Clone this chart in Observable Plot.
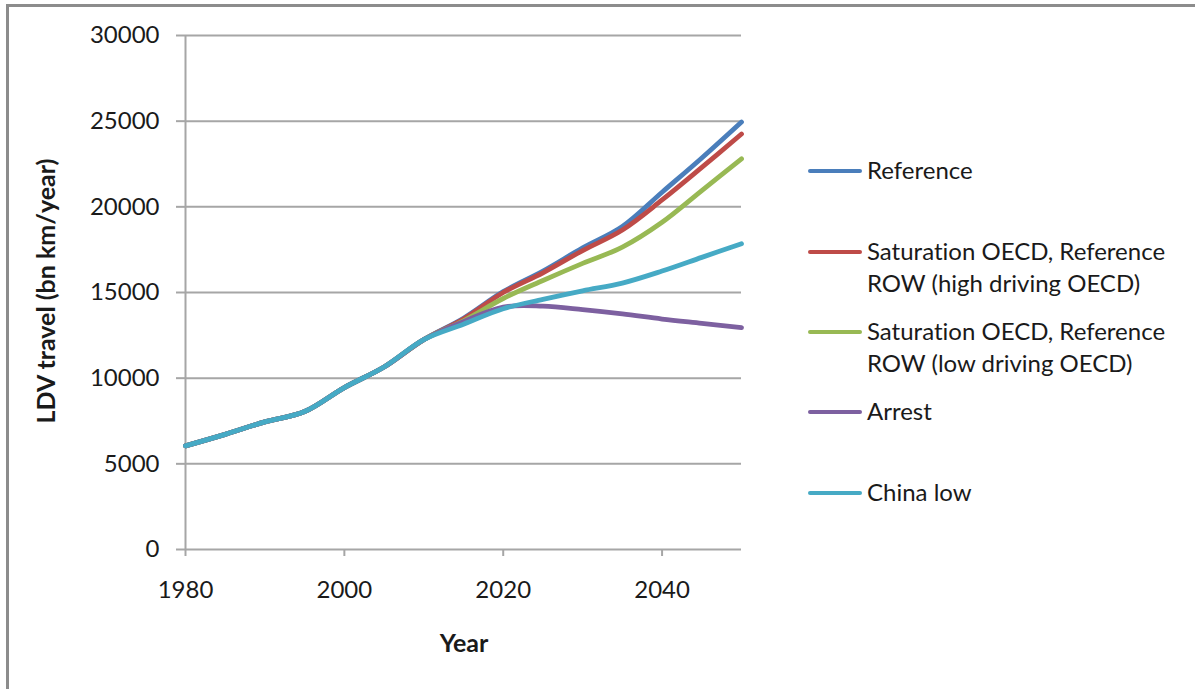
<!DOCTYPE html>
<html>
<head>
<meta charset="utf-8">
<script src="https://cdn.jsdelivr.net/npm/d3@7"></script>
<script src="https://cdn.jsdelivr.net/npm/@observablehq/plot@0.6"></script>
<style>
  html, body { margin: 0; padding: 0; background: #fff; }
  #wrap { position: relative; width: 1195px; height: 689px; overflow: hidden; font-family: Lato, "Open Sans", sans-serif; color: #1a1a1a; font-variant-ligatures: none; }
  #wrap svg text { font-variant-ligatures: none; }
  #frame { position: absolute; left: 6px; top: 4px; width: 1300px; height: 800px; border-left: 3px solid #8c8c8c; border-top: 3px solid #8c8c8c; box-sizing: border-box; }
  #chart { position: absolute; left: 0; top: 0; }
  .legend-item { position: absolute; left: 808px; display: flex; align-items: flex-start; }
  .legend-item .swatch { width: 54px; height: 4px; border-radius: 2px; margin-top: 14px; flex: none; }
  .legend-item .txt { margin-left: 5px; font-size: 24px; line-height: 32px; margin-top: -1px; white-space: nowrap; }
  #ytitle { position: absolute; left: 45px; top: 291px; transform: translate(-50%, -50%) rotate(-90deg); font-weight: bold; font-size: 25px; white-space: nowrap; }
  #xtitle { position: absolute; left: 464px; top: 642px; transform: translate(-50%, -50%); font-weight: bold; font-size: 25px; }
</style>
</head>
<body>
<div id="wrap">
  <div id="chart"></div>
  <div id="frame"></div>
  <div id="ytitle">LDV travel (bn km/year)</div>
  <div id="xtitle">Year</div>
  <div id="legend"></div>
</div>
<script>
// ---- data ----
const years = [1980, 1985, 1990, 1995, 2000, 2005, 2010, 2015, 2020, 2025, 2030, 2035, 2040, 2045, 2050];
const history = [6050, 6720, 7450, 8050, 9450, 10650, 12250];
const seriesNames = [
  "Reference",
  "Saturation OECD, Reference ROW (high driving OECD)",
  "Saturation OECD, Reference ROW (low driving OECD)",
  "Arrest",
  "China low"
];
const legendLines = [
  ["Reference"],
  ["Saturation OECD, Reference", "ROW (high driving OECD)"],
  ["Saturation OECD, Reference", "ROW (low driving OECD)"],
  ["Arrest"],
  ["China low"]
];
const referenceFuture = [13500, 15050, 16250, 17600, 18850, 20850, 22850, 24950];
const satHighFuture   = [13450, 15000, 16150, 17450, 18650, 20400, 22300, 24250];
const satLowFuture    = [13350, 14650, 15700, 16700, 17650, 19100, 20950, 22800];
const arrestFuture    = [13300, 14150, 14200, 14000, 13750, 13450, 13200, 12950];
const chinaLowFuture  = [13150, 14050, 14600, 15100, 15550, 16250, 17050, 17850];
const colors = ["#4A7EBB", "#BE4B48", "#98B954", "#7D60A0", "#46AAC5"];
const yTicks = [0, 5000, 10000, 15000, 20000, 25000, 30000];
const xTicks = [1980, 2000, 2020, 2040];

// ---- build table ----
const futures = [referenceFuture, satHighFuture, satLowFuture, arrestFuture, chinaLowFuture];
const rows = [];
seriesNames.forEach((name, i) => {
  const vals = history.concat(futures[i]);
  years.forEach((yr, j) => rows.push({series: name, year: yr, value: vals[j]}));
});

const grid = "#a6a6a6";
const chart = Plot.plot({
  width: 1195,
  height: 689,
  marginLeft: 185,
  marginRight: 454,
  marginTop: 35,
  marginBottom: 140,
  style: {fontFamily: "Lato, 'Open Sans', sans-serif", fontSize: "24px", color: "#1a1a1a", background: "transparent"},
  x: {domain: [1980, 2050]},
  y: {domain: [0, 30000]},
  color: {domain: seriesNames, range: colors},
  marks: [
    Plot.gridY(yTicks, {stroke: grid, strokeOpacity: 1, strokeWidth: 2}),
    Plot.axisY(yTicks, {tickSize: 9, tickPadding: 17, stroke: grid, strokeWidth: 2, fill: "#1a1a1a", tickFormat: d => String(d), label: null}),
    Plot.axisX(xTicks, {tickSize: 7, tickPadding: 24, stroke: grid, strokeWidth: 2, fill: "#1a1a1a", tickFormat: d => String(d), label: null}),
    Plot.ruleX([1980], {stroke: grid, strokeWidth: 2}),
    Plot.line(rows, {x: "year", y: "value", z: "series", stroke: "series", strokeWidth: 4.8, curve: "catmull-rom"})
  ]
});
document.getElementById("chart").appendChild(chart);

// ---- legend ----
const legendTops = [155, 236, 316, 396, 477];
const legend = document.getElementById("legend");
legendLines.forEach((lines, i) => {
  const item = document.createElement("div");
  item.className = "legend-item";
  item.style.top = legendTops[i] + "px";
  const sw = document.createElement("div");
  sw.className = "swatch";
  sw.style.background = colors[i];
  const t = document.createElement("div");
  t.className = "txt";
  t.innerHTML = lines.join("<br>");
  item.appendChild(sw);
  item.appendChild(t);
  legend.appendChild(item);
});
</script>
</body>
</html>
